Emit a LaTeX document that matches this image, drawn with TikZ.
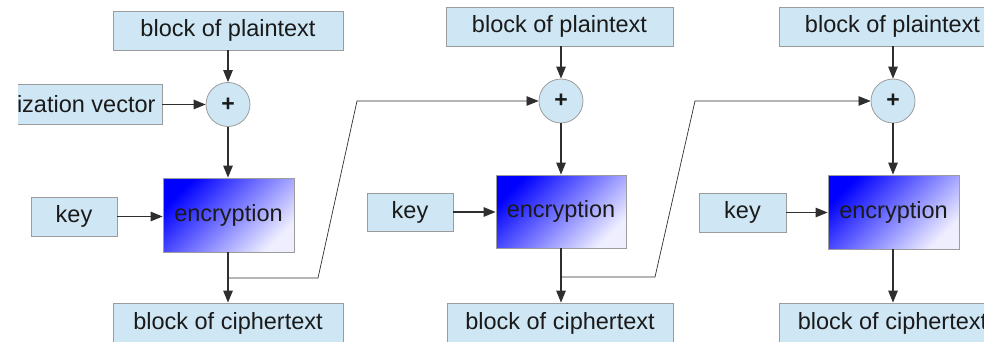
\documentclass[tikz,border=0pt]{standalone}
\usepackage{fontspec}
\setmainfont{Liberation Sans}
\usetikzlibrary{arrows.meta}
\definecolor{boxfill}{HTML}{CFE7F5}
\definecolor{boxline}{HTML}{9C9C9C}
\definecolor{ink}{HTML}{1A1A1A}
\definecolor{wire}{HTML}{2E2E2E}
\definecolor{encend}{HTML}{EEEEFF}
\begin{document}
\begin{tikzpicture}[x=1pt,y=-1pt,
  lbl/.style={draw=boxline, fill=boxfill, line width=0.8pt, inner sep=0pt,
    font=\fontsize{23.5}{28}\selectfont, text=ink},
  xorn/.style={circle, draw=boxline, fill=boxfill, line width=0.8pt,
    minimum size=44pt, inner sep=0pt, font=\bfseries\fontsize{23}{26}\selectfont, text=ink},
  encn/.style={draw=boxline, line width=0.8pt, inner sep=0pt,
    top color=blue, bottom color=encend, shading angle=45,
    font=\fontsize{23.5}{28}\selectfont, text=ink},
  flow/.style={draw=wire, line width=1.2pt, -{Triangle[length=12pt,width=9.5pt]}},
  chain/.style={draw=wire, line width=0.7pt, -{Triangle[length=12pt,width=9.5pt]}}
]
\useasboundingbox (0,0) rectangle (984,342);
\begin{scope}
\clip (18,0) rectangle (984,342);

% first block: initialization vector enters the XOR
\node[lbl, minimum width=230pt, minimum height=39pt] (p1) at (228,30.5) {block of plaintext};
\node[xorn] (x1) at (228,104.5) {+};
\node[lbl, minimum width=205pt, minimum height=40pt] (iv) at (59.5,104.5) {initialization vector};
\node[encn, minimum width=131pt, minimum height=74pt] (e1) at (228.5,215) {encryption};
\node[lbl, minimum width=86pt, minimum height=39pt] (k1) at (74,216.5) {key};
\node[lbl, minimum width=230pt, minimum height=40pt] (c1) at (228,323) {block of ciphertext};

% second block
\node[lbl, minimum width=227pt, minimum height=39pt] (p2) at (559.5,26.5) {block of plaintext};
\node[xorn] (x2) at (561,101) {+};
\node[encn, minimum width=130pt, minimum height=73pt] (e2) at (561,211.5) {encryption};
\node[lbl, minimum width=86pt, minimum height=38pt] (k2) at (410,212) {key};
\node[lbl, minimum width=226pt, minimum height=40pt] (c2) at (560,323) {block of ciphertext};

% third block
\node[lbl, minimum width=227pt, minimum height=39pt] (p3) at (892.5,26.5) {block of plaintext};
\node[xorn] (x3) at (893,101) {+};
\node[encn, minimum width=131pt, minimum height=74pt] (e3) at (893.5,212) {encryption};
\node[lbl, minimum width=87pt, minimum height=39pt] (k3) at (742.5,212.5) {key};
\node[lbl, minimum width=227pt, minimum height=40pt] (c3) at (892.5,323) {block of ciphertext};

% data flow inside each block
\draw[flow] (x1 |- p1.south) -- (x1.north);
\draw[flow] (iv.east) -- (x1.west);
\draw[flow] (x1.south) -- (x1 |- e1.north);
\draw[flow] (k1.east) -- (k1.east -| e1.west);
\draw[flow] (x1 |- e1.south) -- (x1 |- c1.north);

\draw[flow] (x2 |- p2.south) -- (x2.north);
\draw[flow] (x2.south) -- (x2 |- e2.north);
\draw[flow] (k2.east) -- (k2.east -| e2.west);
\draw[flow] (x2 |- e2.south) -- (x2 |- c2.north);

\draw[flow] (x3 |- p3.south) -- (x3.north);
\draw[flow] (x3.south) -- (x3 |- e3.north);
\draw[flow] (k3.east) -- (k3.east -| e3.west);
\draw[flow] (x3 |- e3.south) -- (x3 |- c3.north);

% ciphertext chained into the next XOR
\coordinate (j1) at (228,278);
\coordinate (b1) at (318,278);
\coordinate (t1) at (357,101);
\draw[chain] (j1) -- (b1) -- (t1) -- (x2.west);

\coordinate (j2) at (561,277);
\coordinate (b2) at (655,277);
\coordinate (t2) at (695,101);
\draw[chain] (j2) -- (b2) -- (t2) -- (x3.west);
\end{scope}
\end{tikzpicture}
\end{document}
